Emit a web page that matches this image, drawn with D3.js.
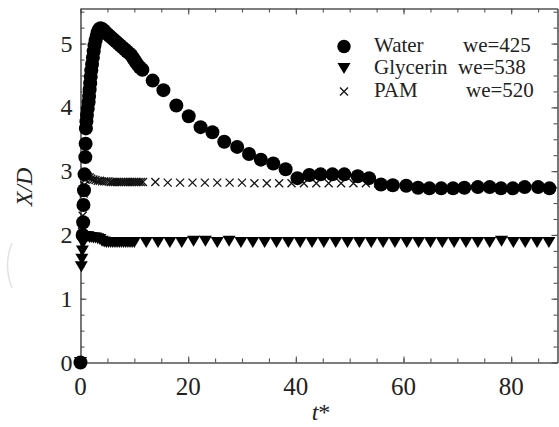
<!DOCTYPE html>
<html lang="en">
<head>
    <meta charset="UTF-8">
    <title>X/D vs t*</title>
    <script src="https://cdn.jsdelivr.net/npm/d3@7"></script>
    <style>
        body { margin: 0; background: #fff; }
        svg text { font-family: 'Liberation Serif', 'Times New Roman', Times, serif; fill: #222; }
    </style>
</head>
<body>
<div id="chartArea"></div>
<script>
    // [t*, X/D]
    const water = [
        [0, 0], [0.4, 2.0], [0.5, 2.2], [0.55, 2.47], [0.65, 2.7], [0.75, 2.95], [0.9, 3.22], [0.95, 3.43],
        [1.0, 3.67], [1.1, 3.78], [1.2, 3.88], [1.35, 3.98], [1.5, 4.08], [1.6, 4.18], [1.7, 4.28], [1.8, 4.38],
        [1.9, 4.48], [2.0, 4.58], [2.15, 4.68], [2.3, 4.78], [2.45, 4.88], [2.6, 4.97], [2.8, 5.05], [3.0, 5.12],
        [3.2, 5.18], [3.45, 5.22], [3.7, 5.24], [4.0, 5.23], [4.3, 5.21], [4.6, 5.18], [5.0, 5.15], [5.4, 5.12],
        [5.8, 5.09], [6.2, 5.06], [6.6, 5.03], [7.0, 5.0], [7.4, 4.97], [7.8, 4.94], [8.2, 4.91], [8.6, 4.88],
        [9.0, 4.85], [9.4, 4.82], [9.8, 4.77], [10.2, 4.72], [10.6, 4.67], [11.0, 4.63], [11.5, 4.59],
        [13.4, 4.42], [15.4, 4.27], [17.8, 4.03], [20.1, 3.86], [22.3, 3.69], [24.5, 3.61], [26.7, 3.46],
        [29.1, 3.38], [31.3, 3.27], [33.5, 3.18], [35.8, 3.12], [38.1, 3.03], [40.3, 2.89], [42.5, 2.94],
        [44.6, 2.95], [46.8, 2.95], [49.0, 2.95], [51.5, 2.92], [53.6, 2.89], [55.8, 2.79], [58.0, 2.78],
        [60.5, 2.77], [62.7, 2.74], [64.8, 2.73], [67.0, 2.73], [69.2, 2.73], [71.3, 2.74], [73.8, 2.75],
        [76.0, 2.75], [78.1, 2.73], [80.3, 2.73], [82.5, 2.75], [85.0, 2.75], [87.1, 2.73]
    ];
    const glycerin = [
        [0, 0], [0.15, 1.5], [0.25, 1.62], [0.35, 1.75], [0.45, 1.87], [0.6, 1.95], [0.8, 1.97], [1.1, 1.97],
        [1.4, 1.97], [1.7, 1.96], [2.0, 1.96], [2.4, 1.95], [2.8, 1.95], [3.2, 1.94], [3.6, 1.93], [4.0, 1.9],
        [4.4, 1.89], [4.8, 1.88], [5.2, 1.88], [5.6, 1.88], [6.0, 1.88], [6.4, 1.88], [6.8, 1.88], [7.2, 1.88],
        [7.6, 1.88], [8.0, 1.88], [8.4, 1.88], [8.8, 1.88], [9.2, 1.88], [9.6, 1.88], [10.0, 1.88],
        [12.2, 1.88], [14.4, 1.88], [16.6, 1.88], [18.8, 1.88], [21.0, 1.9], [23.2, 1.9], [25.4, 1.88],
        [27.6, 1.9], [29.8, 1.88], [32.0, 1.88], [34.2, 1.88], [36.4, 1.88], [38.6, 1.88], [40.8, 1.88],
        [43.0, 1.88], [45.2, 1.88], [47.4, 1.88], [49.6, 1.88], [51.8, 1.88], [54.0, 1.88], [56.2, 1.88],
        [58.4, 1.88], [60.6, 1.88], [62.8, 1.88], [65.0, 1.88], [67.2, 1.88], [69.4, 1.88], [71.6, 1.88],
        [73.8, 1.88], [76.0, 1.88], [78.2, 1.9], [80.4, 1.88], [82.6, 1.88], [84.8, 1.88], [87.0, 1.88]
    ];
    const pam = [
        [0, 0], [0.3, 2.05], [0.4, 2.3], [0.5, 2.5], [0.6, 2.65], [0.7, 2.78], [0.9, 2.87], [1.1, 2.91],
        [1.4, 2.91], [1.7, 2.9], [2.0, 2.88], [2.4, 2.87], [2.8, 2.86], [3.2, 2.85], [3.6, 2.85], [4.0, 2.84],
        [4.4, 2.84], [4.8, 2.84], [5.2, 2.84], [5.6, 2.83], [6.0, 2.83], [6.4, 2.83], [6.8, 2.83], [7.2, 2.83],
        [7.6, 2.83], [8.0, 2.83], [8.4, 2.83], [8.8, 2.83], [9.2, 2.83], [9.6, 2.83], [10.0, 2.83],
        [10.4, 2.83], [10.8, 2.83], [11.2, 2.83], [11.6, 2.83],
        [13.9, 2.83], [16.2, 2.82], [18.5, 2.82], [20.8, 2.82], [23.1, 2.82], [25.4, 2.82], [27.7, 2.82],
        [30.0, 2.82], [32.3, 2.81], [34.6, 2.81], [36.9, 2.81], [39.2, 2.81], [41.5, 2.81], [43.8, 2.81],
        [46.1, 2.81], [48.4, 2.81], [50.7, 2.81], [53.0, 2.81], [55.3, 2.81]
    ];

    const xTicks = [0, 20, 40, 60, 80];
    const yTicks = [0, 1, 2, 3, 4, 5];
    const legendNames = ['Water', 'Glycerin', 'PAM'];
    const legendWe = ['we=425', 'we=538', 'we=520'];

    const W = 559, H = 427;
    const margin = { left: 80.5, right: 557.5, top: 8.5, bottom: 362.5 };
    const serif = "'Liberation Serif', 'Times New Roman', Times, serif";

    const svg = d3.select('#chartArea').append('svg')
        .attr('width', W)
        .attr('height', H)
        .attr('font-family', serif);

    const x = d3.scaleLinear().domain([0, 88.6]).range([margin.left, margin.right]);
    const y = d3.scaleLinear().domain([0, 5.55]).range([margin.bottom, margin.top]);

    const xMinor = d3.range(0, 88.6, 5);
    const yMinor = d3.range(0, 5.55, 0.25);

    // faint scan mark left of the axis, as in the source image
    svg.append('path')
        .attr('d', 'M12,243 Q3,265 12,288')
        .attr('fill', 'none')
        .attr('stroke', '#e2e2e2')
        .attr('stroke-width', 1.5);

    // frame with inward ticks on all four sides
    const frame = svg.append('g');
    const tickStyle = g => g.selectAll('line, path').attr('stroke', '#555').attr('stroke-width', 1.1);
    const side = (axisFn, pos, vals, len) => frame.append('g').attr('transform', pos)
        .call(axisFn.tickValues(vals).tickSize(len).tickFormat('').tickSizeOuter(0)).call(tickStyle);

    side(d3.axisTop(x), `translate(0,${margin.bottom})`, xMinor, 4);
    side(d3.axisTop(x), `translate(0,${margin.bottom})`, xTicks, 6);
    side(d3.axisBottom(x), `translate(0,${margin.top})`, xMinor, 4);
    side(d3.axisBottom(x), `translate(0,${margin.top})`, xTicks, 6);
    side(d3.axisRight(y), `translate(${margin.left},0)`, yMinor, 4);
    side(d3.axisRight(y), `translate(${margin.left},0)`, yTicks, 6);
    side(d3.axisLeft(y), `translate(${margin.right},0)`, yMinor, 4);
    side(d3.axisLeft(y), `translate(${margin.right},0)`, yTicks, 6);

    // tick labels
    svg.append('g').selectAll('text').data(xTicks).enter().append('text')
        .attr('x', d => x(d))
        .attr('y', margin.bottom + 32)
        .attr('text-anchor', 'middle')
        .style('font-family', serif)
        .style('font-size', '25px')
        .text(d => d);
    svg.append('g').selectAll('text').data(yTicks).enter().append('text')
        .attr('x', margin.left - 8)
        .attr('y', d => y(d) + 8)
        .attr('text-anchor', 'end')
        .style('font-family', serif)
        .style('font-size', '24px')
        .text(d => d);

    // axis titles
    svg.append('text')
        .attr('transform', 'translate(32,187) rotate(-90)')
        .attr('text-anchor', 'middle')
        .style('font-family', serif)
        .style('font-size', '24px')
        .style('font-style', 'italic')
        .text('X/D');
    const xt = svg.append('text')
        .attr('x', 321)
        .attr('y', 420)
        .attr('text-anchor', 'middle')
        .style('font-family', serif)
        .style('font-size', '24px');
    xt.append('tspan').style('font-style', 'italic').text('t');
    xt.append('tspan').text('*');

    // markers
    const tri = 'M-6.5,-5.5L6.5,-5.5L0,5.5Z';
    const cross = 'M-4,-4L4,4M-4,4L4,-4';

    svg.append('g').selectAll('path').data(pam).enter().append('path')
        .attr('transform', d => `translate(${x(d[0])},${y(d[1])})`)
        .attr('d', cross)
        .attr('fill', 'none')
        .attr('stroke', '#111')
        .attr('stroke-width', 1.3);

    svg.append('g').selectAll('path').data(glycerin).enter().append('path')
        .attr('transform', d => `translate(${x(d[0])},${y(d[1])})`)
        .attr('d', tri)
        .attr('fill', '#000');

    svg.append('g').selectAll('circle').data(water).enter().append('circle')
        .attr('cx', d => x(d[0]))
        .attr('cy', d => y(d[1]))
        .attr('r', 7)
        .attr('fill', '#000');

    // legend
    const legend = svg.append('g');
    const rowY = [46.5, 68.5, 91.5];
    legend.append('circle').attr('cx', 344).attr('cy', rowY[0]).attr('r', 6.7).attr('fill', '#000');
    legend.append('path').attr('transform', `translate(344,${rowY[1]})`).attr('d', tri).attr('fill', '#000');
    legend.append('path').attr('transform', `translate(344,${rowY[2]})`).attr('d', cross)
        .attr('stroke', '#111').attr('stroke-width', 1.3).attr('fill', 'none');

    const weX = [463, 458, 466];
    legendNames.forEach((name, i) => {
        legend.append('text').attr('x', 374).attr('y', rowY[i] + 5.5)
            .style('font-family', serif).style('font-size', '21px').text(name);
        legend.append('text').attr('x', weX[i]).attr('y', rowY[i] + 5.5)
            .style('font-family', serif).style('font-size', '21px').text(legendWe[i]);
    });
</script>
</body>
</html>
